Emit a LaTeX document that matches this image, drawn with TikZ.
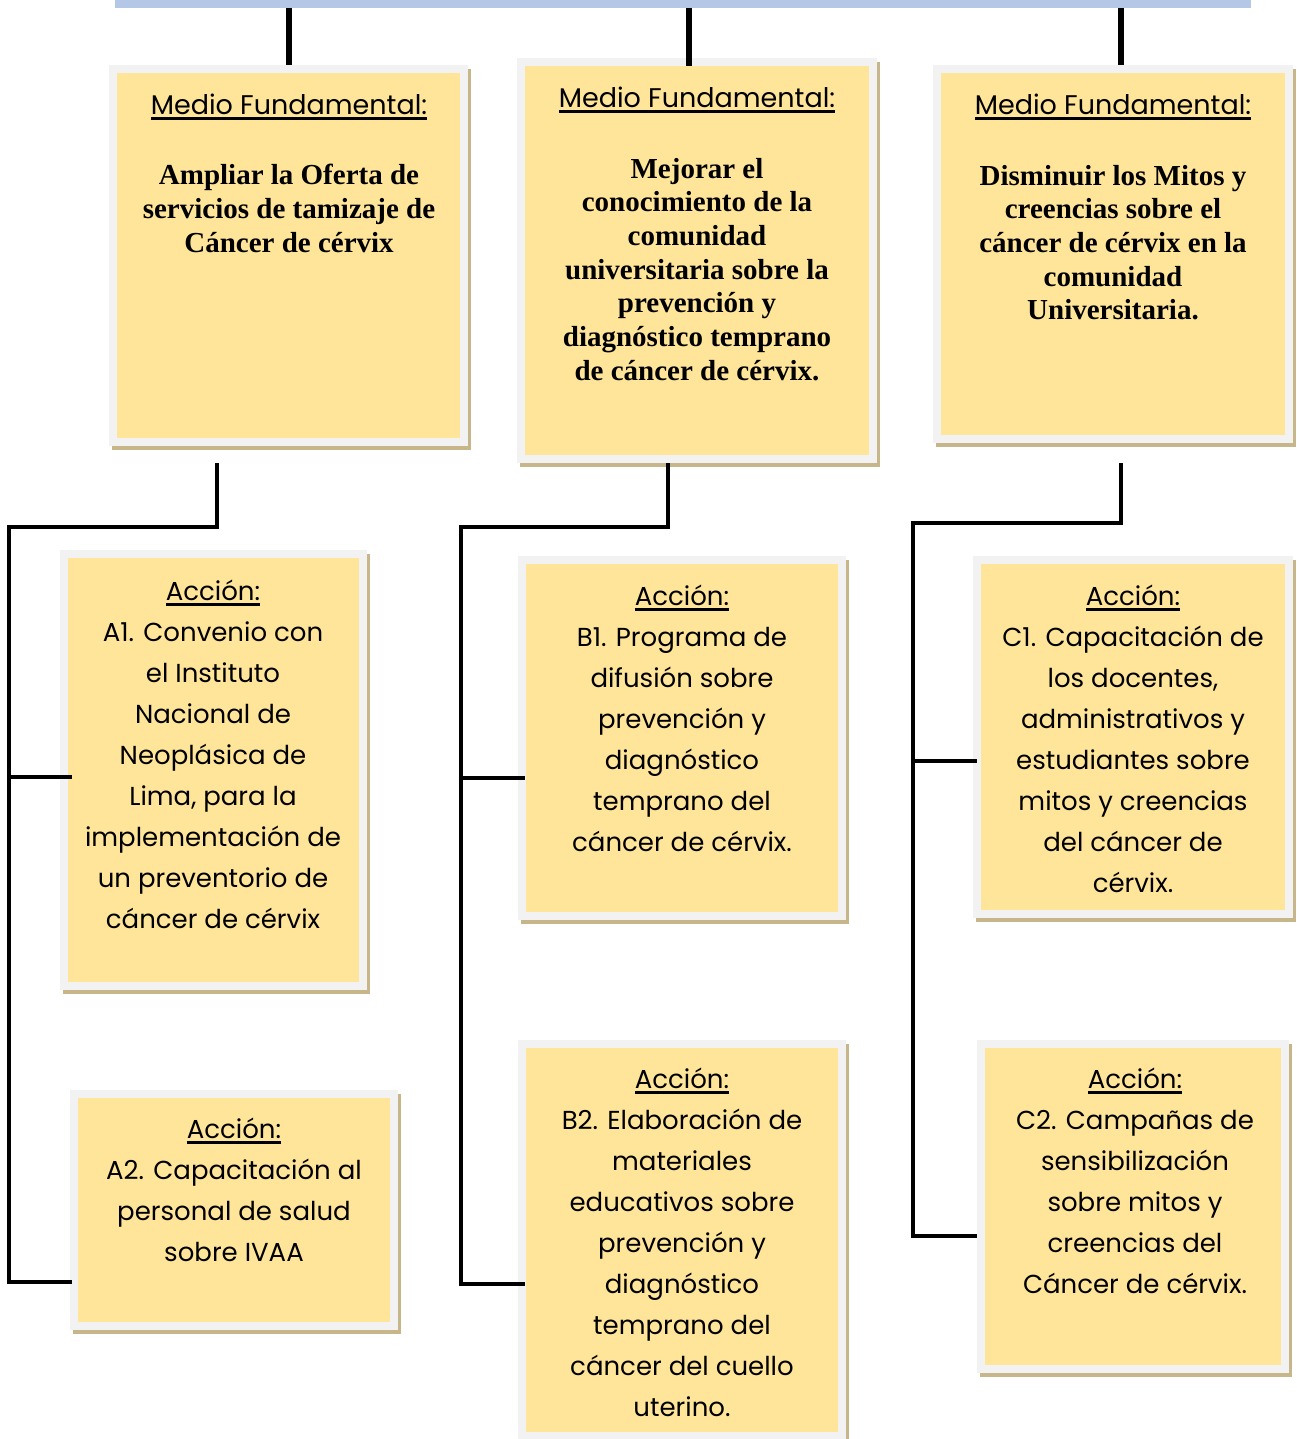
\documentclass[tikz,border=0pt]{standalone}
\usepackage{fontspec}
\setmainfont{Liberation Serif}
\newfontfamily\comicf{Poppins}
\usetikzlibrary{shadows}
\definecolor{boxyellow}{HTML}{FFE599}
\definecolor{boxgray}{HTML}{F2F2F2}
\definecolor{boxshadow}{HTML}{C6B68A}
\definecolor{barblue}{HTML}{B4C7E7}
\newcommand\ulin[1]{\setbox0=\hbox{#1}\rlap{\rule[-5.5pt]{\wd0}{3pt}}\box0}
\begin{document}
\begin{tikzpicture}[x=1pt,y=-1pt,
  caja/.style={draw=boxgray, fill=boxyellow, line width=8pt, inner sep=0pt, outer sep=4pt, anchor=north west,
    drop shadow={shadow xshift=3pt, shadow yshift=-4pt, fill=boxshadow, draw=boxshadow, line width=8pt, opacity=1}},
  ttl/.style={font=\comicf\fontsize{27}{41}\selectfont, inner sep=0pt, anchor=base},
  bod/.style={font=\bfseries\fontsize{29}{33.7}\selectfont, align=center, inner sep=0pt, anchor=base},
  acc/.style={font=\comicf\fontsize{26}{41}\selectfont, align=center, inner sep=0pt, anchor=base},
  conn/.style={line width=4pt, line join=miter, black},
  stem/.style={line width=5.5pt, black}]
\useasboundingbox (0,0) rectangle (1296,1439);
\fill[white] (0,0) rectangle (1296,1439);
% top bar
\node[fill=barblue, inner sep=0pt, minimum width=1136pt, minimum height=8pt, anchor=north west] (bar) at (115,0) {};
% boxes (anchor = outer top-left corner of the grey frame)
\node[caja, minimum width=351pt, minimum height=373pt] (MA) at (109,65) {};
\node[caja, minimum width=352pt, minimum height=397pt] (MB) at (517,58) {};
\node[caja, minimum width=352pt, minimum height=370pt] (MC) at (933,65) {};
\node[caja, minimum width=299pt, minimum height=432pt] (A1) at (60,550) {};
\node[caja, minimum width=320pt, minimum height=232pt] (A2) at (70,1090) {};
\node[caja, minimum width=320pt, minimum height=356pt] (B1) at (518,556) {};
\node[caja, minimum width=320pt, minimum height=392pt] (B2) at (518,1040) {};
\node[caja, minimum width=312pt, minimum height=354pt] (C1) at (973,556) {};
\node[caja, minimum width=304pt, minimum height=325pt] (C2) at (977,1040) {};
% stems from bar
\draw[stem] (bar.south -| 289,0) -- (MA.north -| 289,0);
\draw[stem] (bar.south -| 689,0) -- ([yshift=-8pt]MB.north -| 689,0);
\draw[stem] (bar.south -| 1121,0) -- (MC.north -| 1121,0);
% connector coordinates
\coordinate (ja) at (217,463);
\coordinate (ka) at (9,527);
\coordinate (a1in) at (72,777);
\coordinate (a2in) at (72,1282);
\coordinate (jb) at (668,463);
\coordinate (kb) at (461,527);
\coordinate (b1in) at (525,778);
\coordinate (b2in) at (525,1284);
\coordinate (jc) at (1121,463);
\coordinate (kc) at (913,523);
\coordinate (c1in) at (977,761);
\coordinate (c2in) at (977,1236);
\draw[conn] (ja) |- (ka) |- (a2in);
\draw[conn] (ka |- a1in) -- (a1in);
\draw[conn] (jb) |- (kb) |- (b2in);
\draw[conn] (kb |- b1in) -- (b1in);
\draw[conn] (jc) |- (kc) |- (c2in);
\draw[conn] (kc |- c1in) -- (c1in);
% texts (anchor=base is the baseline of the last line)
\node[ttl] (MAt) at (289,115) {\ulin{Medio Fundamental:}};
\node[bod] (MAb) at (289,252.4) {Ampliar la Oferta de\\servicios de tamizaje de\\Cáncer de cérvix};
\node[ttl] (MBt) at (697,108) {\ulin{Medio Fundamental:}};
\node[bod] (MBb) at (697,380.2) {Mejorar el\\conocimiento de la\\comunidad\\universitaria sobre la\\prevención y\\diagnóstico temprano\\de cáncer de cérvix.};
\node[ttl] (MCt) at (1113,115) {\ulin{Medio Fundamental:}};
\node[bod] (MCb) at (1113,319.8) {Disminuir los Mitos y\\creencias sobre el\\cáncer de cérvix en la\\comunidad\\Universitaria.};
\node[acc] (A1t) at (213,928) {\ulin{Acción:}\\A1. Convenio con\\el Instituto\\Nacional de\\Neoplásica de\\Lima, para la\\implementación de\\un preventorio de\\cáncer de cérvix};
\node[acc] (A2t) at (234,1261) {\ulin{Acción:}\\A2. Capacitación al\\personal de salud\\sobre IVAA};
\node[acc] (B1t) at (682,851) {\ulin{Acción:}\\B1. Programa de\\difusión sobre\\prevención y\\diagnóstico\\temprano del\\cáncer de cérvix.};
\node[acc] (B2t) at (682,1416) {\ulin{Acción:}\\B2. Elaboración de\\materiales\\educativos sobre\\prevención y\\diagnóstico\\temprano del\\cáncer del cuello\\uterino.};
\node[acc] (C1t) at (1133,892) {\ulin{Acción:}\\C1. Capacitación de\\los docentes,\\administrativos y\\estudiantes sobre\\mitos y creencias\\del cáncer de\\cérvix.};
\node[acc] (C2t) at (1135,1293) {\ulin{Acción:}\\C2. Campañas de\\sensibilización\\sobre mitos y\\creencias del\\Cáncer de cérvix.};
\end{tikzpicture}
\end{document}
